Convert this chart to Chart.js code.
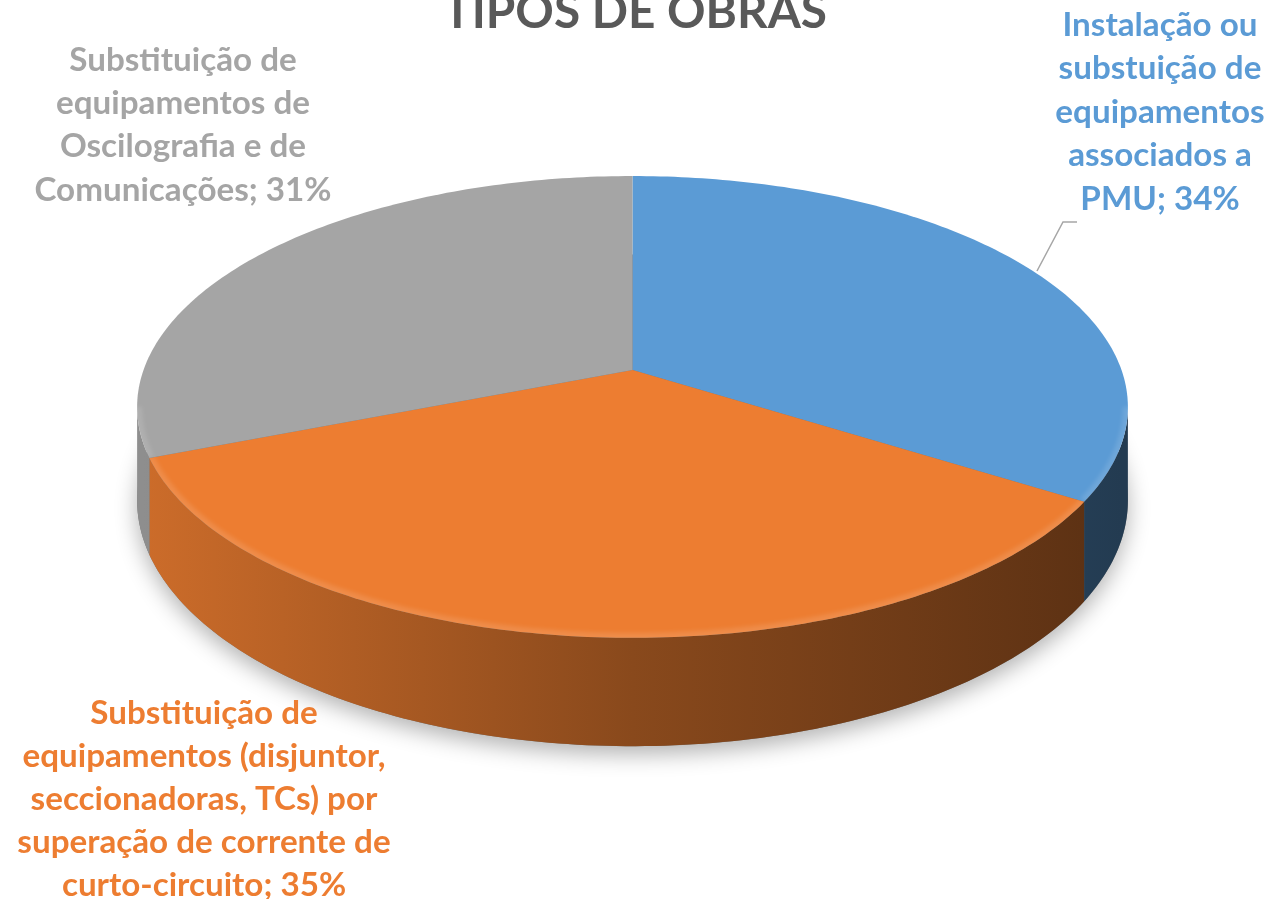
<!DOCTYPE html>
<html>
<head>
<meta charset="utf-8">
<script src="https://cdn.jsdelivr.net/npm/chart.js@4.4.1/dist/chart.umd.min.js"></script>
<style>
  html, body { margin: 0; padding: 0; background: #fff; overflow: hidden; }
</style>
</head>
<body>
<canvas id="chart" width="1267" height="899"></canvas>
<script>
const title = 'TIPOS DE OBRAS';
const categories = [
  'Instalação ou\nsubstuição de\nequipamentos\nassociados a\nPMU',
  'Substituição de\nequipamentos (disjuntor,\nseccionadoras, TCs) por\nsuperação de corrente de\ncurto-circuito',
  'Substituição de\nequipamentos de\nOscilografia e de\nComunicações'
];
const values = [34, 35, 31];
const colors = ['#5b9bd5', '#ed7d31', '#a5a5a5'];

// perspective pie geometry
const CX = 632.5, CY = 370, RX = 489, RY = 225, DEPTH = 6.25, THICK = 91;
const FONT = 'Lato, "Open Sans", sans-serif';

// where each label block is centred (x, first line y, line step)
const labelPos = [
  { x: 1160, y: 25, step: 43.5 },
  { x: 204, y: 713, step: 43 },
  { x: 183, y: 60, step: 43.3 }
];

function proj(a, h) {
  const dx = Math.cos(a), dy = Math.sin(a);
  const s = DEPTH / (DEPTH - dy);
  return [CX + RX * dx * s, CY + (RY * dy + THICK * h) * s];
}

function shade(hex, f) {
  const n = parseInt(hex.slice(1), 16);
  const r = Math.round(((n >> 16) & 255) * f);
  const g = Math.round(((n >> 8) & 255) * f);
  const b = Math.round((n & 255) * f);
  return `rgb(${r},${g},${b})`;
}

function rimPath(ctx, a0, a1, h, move) {
  const n = Math.max(2, Math.ceil(Math.abs(a1 - a0) * 60));
  for (let k = 0; k <= n; k++) {
    const p = proj(a0 + (a1 - a0) * k / n, h);
    if (k === 0 && move) ctx.moveTo(p[0], p[1]); else ctx.lineTo(p[0], p[1]);
  }
}

const pie3d = {
  id: 'pie3d',
  beforeDatasetsDraw(chart) {
    const ctx = chart.ctx;
    const arcs = chart.getDatasetMeta(0).data;
    const lo = Math.asin(1 / DEPTH), hi = Math.PI - lo;

    // soft shadow under the disc
    ctx.save();
    ctx.beginPath();
    rimPath(ctx, 0, Math.PI * 2, 1, true);
    ctx.closePath();
    ctx.shadowColor = 'rgba(0,0,0,0.3)';
    ctx.shadowBlur = 22;
    ctx.shadowOffsetY = 8;
    ctx.fillStyle = '#777';
    ctx.fill();
    ctx.restore();

    // front walls
    arcs.forEach((arc, i) => {
      const a0 = Math.max(arc.startAngle, lo), a1 = Math.min(arc.endAngle, hi);
      if (a1 <= a0) return;
      ctx.beginPath();
      rimPath(ctx, a0, a1, 0, true);
      rimPath(ctx, a1, a0, 1, false);
      ctx.closePath();
      const g = ctx.createLinearGradient(CX - RX, 0, CX + RX, 0);
      g.addColorStop(0, shade(colors[i], 0.86));
      g.addColorStop(0.5, shade(colors[i], 0.58));
      g.addColorStop(1, shade(colors[i], 0.38));
      ctx.fillStyle = g;
      ctx.fill();
    });

    // top faces
    arcs.forEach((arc, i) => {
      ctx.save();
      ctx.beginPath();
      ctx.moveTo(CX, CY);
      rimPath(ctx, arc.startAngle, arc.endAngle, 0, false);
      ctx.closePath();
      ctx.fillStyle = arc.options.backgroundColor;
      ctx.fill();
      // faint bevel highlight along the front rim
      ctx.clip();
      const a0 = Math.max(arc.startAngle, lo), a1 = Math.min(arc.endAngle, hi);
      if (a1 > a0) {
        ctx.beginPath();
        rimPath(ctx, a0, a1, 0, true);
        ctx.filter = 'blur(2px)';
        ctx.strokeStyle = 'rgba(255,255,255,0.12)';
        ctx.lineWidth = 10;
        ctx.stroke();
      }
      ctx.restore();
    });
    return false;
  },
  afterDraw(chart) {
    const ctx = chart.ctx;
    ctx.save();

    // title (partly above the frame)
    ctx.font = `bold 100px ${FONT}`;
    const tSize = 100 * 384 / ctx.measureText(title).width;
    ctx.font = `bold ${tSize}px ${FONT}`;
    ctx.fillStyle = '#595959';
    ctx.textAlign = 'center';
    ctx.textBaseline = 'alphabetic';
    ctx.fillText(title, 635, 28);

    // data labels
    ctx.font = `bold 100px ${FONT}`;
    const lSize = 100 * 195 / ctx.measureText('Instalação ou').width;
    ctx.font = `bold ${lSize}px ${FONT}`;
    ctx.textBaseline = 'middle';
    chart.data.labels.forEach((_, i) => {
      const lines = (categories[i] + '; ' + values[i] + '%').split('\n');
      const pos = labelPos[i];
      ctx.fillStyle = colors[i];
      lines.forEach((ln, k) => ctx.fillText(ln, pos.x, pos.y + k * pos.step));
    });

    // leader line for the blue slice label
    ctx.strokeStyle = '#a6a6a6';
    ctx.lineWidth = 1.5;
    ctx.beginPath();
    ctx.moveTo(1037, 271);
    ctx.lineTo(1063, 222);
    ctx.lineTo(1077, 222);
    ctx.stroke();
    ctx.restore();
  }
};

new Chart(document.getElementById('chart'), {
  type: 'pie',
  data: {
    labels: categories.map(c => c.replace(/\n/g, ' ')),
    datasets: [{
      data: values,
      backgroundColor: colors,
      borderWidth: 0
    }]
  },
  options: {
    responsive: false,
    animation: false,
    events: [],
    plugins: {
      legend: { display: false },
      tooltip: { enabled: false }
    }
  },
  plugins: [pie3d]
});
</script>
</body>
</html>
